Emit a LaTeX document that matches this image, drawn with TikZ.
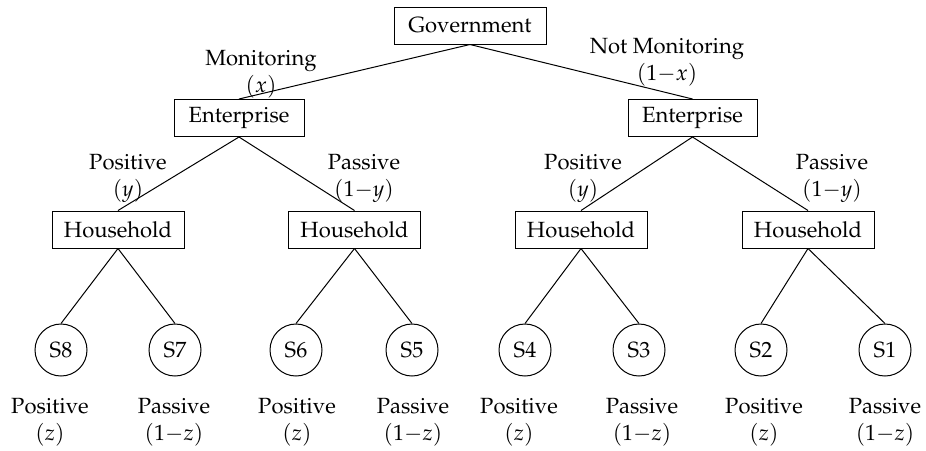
\documentclass[tikz,border=0pt]{standalone}
\usepackage[T1]{fontenc}
\usepackage{mathpazo}
\begin{document}
\begin{tikzpicture}[x=0.5pt,y=-0.5pt,
  every node/.style={font=\fontsize{11}{13.5}\selectfont},
  box/.style={draw, line width=0.5pt, minimum height=18.5pt, inner sep=0pt},
  sbox/.style={draw, circle, line width=0.5pt, minimum size=26pt, inner sep=0pt},
  lbl/.style={align=center, inner sep=0pt},
  link/.style={line width=0.5pt}]
\useasboundingbox (0,0) rectangle (926,450);

% decision makers
\node[box, minimum width=76pt]   (gov)  at (470,25.5)  {Government};
\node[box, minimum width=65pt]   (entL) at (239,118)   {Enterprise};
\node[box, minimum width=64.5pt] (entR) at (692.5,118) {Enterprise};
\node[box, minimum width=66pt]   (hh1)  at (118,229.5) {Household};
\node[box, minimum width=66pt]   (hh2)  at (354.5,229.5) {Household};
\node[box, minimum width=66pt]   (hh3)  at (581,229.5) {Household};
\node[box, minimum width=66pt]   (hh4)  at (808,229.5) {Household};

% terminal strategy profiles
\node[sbox] (s8) at (61,350)  {S8};
\node[sbox] (s7) at (175,350) {S7};
\node[sbox] (s6) at (296,350) {S6};
\node[sbox] (s5) at (412,350) {S5};
\node[sbox] (s4) at (525,350) {S4};
\node[sbox] (s3) at (639,350) {S3};
\node[sbox] (s2) at (761,350) {S2};
\node[sbox] (s1) at (885,350) {S1};

% branches
\draw[link] (gov.south) -- (entL.north);
\draw[link] (gov.south) -- (entR.north);
\draw[link] (entL.south) -- (hh1.north);
\draw[link] (entL.south) -- (hh2.north);
\draw[link] (entR.south) -- (hh3.north);
\draw[link] (entR.south) -- (hh4.north);
\draw[link] (hh1.south) -- (s8.north);
\draw[link] (hh1.south) -- (s7.north);
\draw[link] (hh2.south) -- (s6.north);
\draw[link] (hh2.south) -- (s5.north);
\draw[link] (hh3.south) -- (s4.north);
\draw[link] (hh3.south) -- (s3.north);
\draw[link] (hh4.south) -- (s2.north);
\draw[link] (hh4.south) -- (s1.north);

% branch probabilities
\node[lbl] (pMon)  at (261,74)  {Monitoring\\$(x)$};
\node[lbl] (pNMon) at (667,62)  {Not Monitoring\\$(1{-}x)$};
\node[lbl] (pY1)   at (128,178) {Positive\\$(y)$};
\node[lbl] (pNY1)  at (364,178) {Passive\\$(1{-}y)$};
\node[lbl] (pY2)   at (583,178) {Positive\\$(y)$};
\node[lbl] (pNY2)  at (832,178) {Passive\\$(1{-}y)$};

\node[lbl] (z8) at (50,422)  {Positive\\$(z)$};
\node[lbl] (z7) at (174,422) {Passive\\$(1{-}z)$};
\node[lbl] (z6) at (297,422) {Positive\\$(z)$};
\node[lbl] (z5) at (413,422) {Passive\\$(1{-}z)$};
\node[lbl] (z4) at (519,422) {Positive\\$(z)$};
\node[lbl] (z3) at (642,422) {Passive\\$(1{-}z)$};
\node[lbl] (z2) at (764,422) {Positive\\$(z)$};
\node[lbl] (z1) at (885,422) {Passive\\$(1{-}z)$};
\end{tikzpicture}
\end{document}
